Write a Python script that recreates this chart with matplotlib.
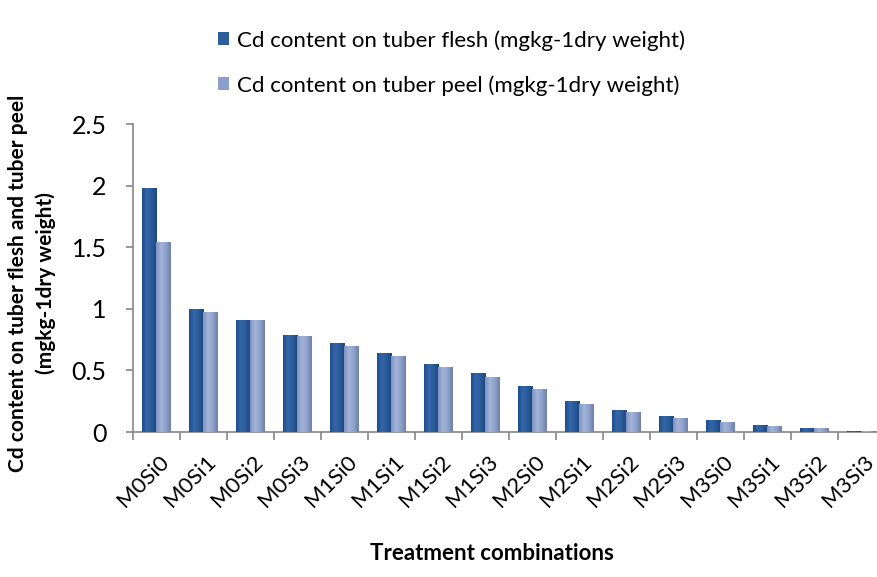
import numpy as np
import matplotlib
matplotlib.use("Agg")
import matplotlib.pyplot as plt
from matplotlib.colors import LinearSegmentedColormap

# Daten
treatments = ["M0Si0", "M0Si1", "M0Si2", "M0Si3", "M1Si0", "M1Si1", "M1Si2", "M1Si3",
              "M2Si0", "M2Si1", "M2Si2", "M2Si3", "M3Si0", "M3Si1", "M3Si2", "M3Si3"]
cd_flesh = [1.98, 1.00, 0.91, 0.79, 0.72, 0.64, 0.55, 0.48,
            0.37, 0.25, 0.18, 0.13, 0.10, 0.06, 0.035, 0.012]
cd_peel = [1.54, 0.97, 0.91, 0.78, 0.70, 0.62, 0.53, 0.45,
           0.35, 0.23, 0.16, 0.11, 0.08, 0.05, 0.03, 0.008]
label_flesh = "Cd content on tuber flesh (mgkg-1dry weight)"
label_peel = "Cd content on tuber peel (mgkg-1dry weight)"

FONT = ["Lato", "DejaVu Sans"]
FS = 16
plt.rcParams["font.family"] = FONT
COLOR_AXIS = "#868686"

fig = plt.figure(figsize=(8.78, 5.77), dpi=100)
# Achse reicht rechts knapp über den Bildrand (wie im Original abgeschnitten)
ax = fig.add_axes([133 / 878, (577 - 432) / 577, 752 / 878, 308 / 577])

x = np.arange(len(treatments))
w = 0.31
bars_f = ax.bar(x - w / 2, cd_flesh, width=w, color="#2E5D9B", label=label_flesh, zorder=2)
bars_p = ax.bar(x + w / 2, cd_peel, width=w, color="#8C9FCA", label=label_peel, zorder=2)

# Verlauf über die Balken legen (Excel-Optik)
cm_f = LinearSegmentedColormap.from_list("f", ["#1F4E8C", "#3466AA", "#2A5A98", "#1C4680"])
cm_p = LinearSegmentedColormap.from_list("p", ["#7E93C2", "#A3B4DA", "#8FA2CC", "#6F7FA8"])
grad = np.linspace(0, 1, 64).reshape(1, -1)
for bars, cmap in [(bars_f, cm_f), (bars_p, cm_p)]:
    for b in bars:
        bx, by = b.get_x(), b.get_y()
        bw, bh = b.get_width(), b.get_height()
        im = ax.imshow(grad, cmap=cmap, aspect="auto", extent=[bx, bx + bw, by, by + bh], zorder=3)
        im.set_clip_path(b)

ax.set_xlim(-0.5, len(treatments) - 0.5)
ax.set_ylim(0, 2.5)
ax.set_yticks([0, 0.5, 1, 1.5, 2, 2.5])
ax.set_yticklabels(["0", "0.5", "1", "1.5", "2", "2.5"], fontsize=18)
ax.set_xticks(x + 0.04)
ax.set_xticklabels(treatments, rotation=45, ha="right", rotation_mode="anchor", fontsize=FS)
ax.set_xticks(np.arange(len(treatments) + 1) - 0.5, minor=True)
ax.tick_params(axis="x", which="major", length=0, pad=14)
ax.tick_params(axis="x", which="minor", length=6, color=COLOR_AXIS, width=1.2)
ax.tick_params(axis="y", length=5, color=COLOR_AXIS, width=1.2, pad=14)

for side in ["top", "right"]:
    ax.spines[side].set_visible(False)
for side in ["left", "bottom"]:
    ax.spines[side].set_color(COLOR_AXIS)
    ax.spines[side].set_linewidth(1.2)

fig.text(18 / 878, (577 - 283) / 577, "Cd content on tuber flesh and tuber peel",
         rotation=90, ha="center", va="center", fontsize=15, fontweight="bold")
fig.text(46 / 878, (577 - 283) / 577, "(mgkg-1dry weight)",
         rotation=90, ha="center", va="center", fontsize=15, fontweight="bold")
fig.text(492 / 878, (577 - 553) / 577, "Treatment combinations",
         ha="center", va="center", fontsize=16, fontweight="bold")

ax.legend(loc="upper left", bbox_to_anchor=(198 / 878, 1 - 10 / 577), bbox_transform=fig.transFigure,
          frameon=False, fontsize=FS, handlelength=0.5, handleheight=0.5, handletextpad=0.35,
          labelspacing=1.1)

fig.savefig("out.png", dpi=100)
